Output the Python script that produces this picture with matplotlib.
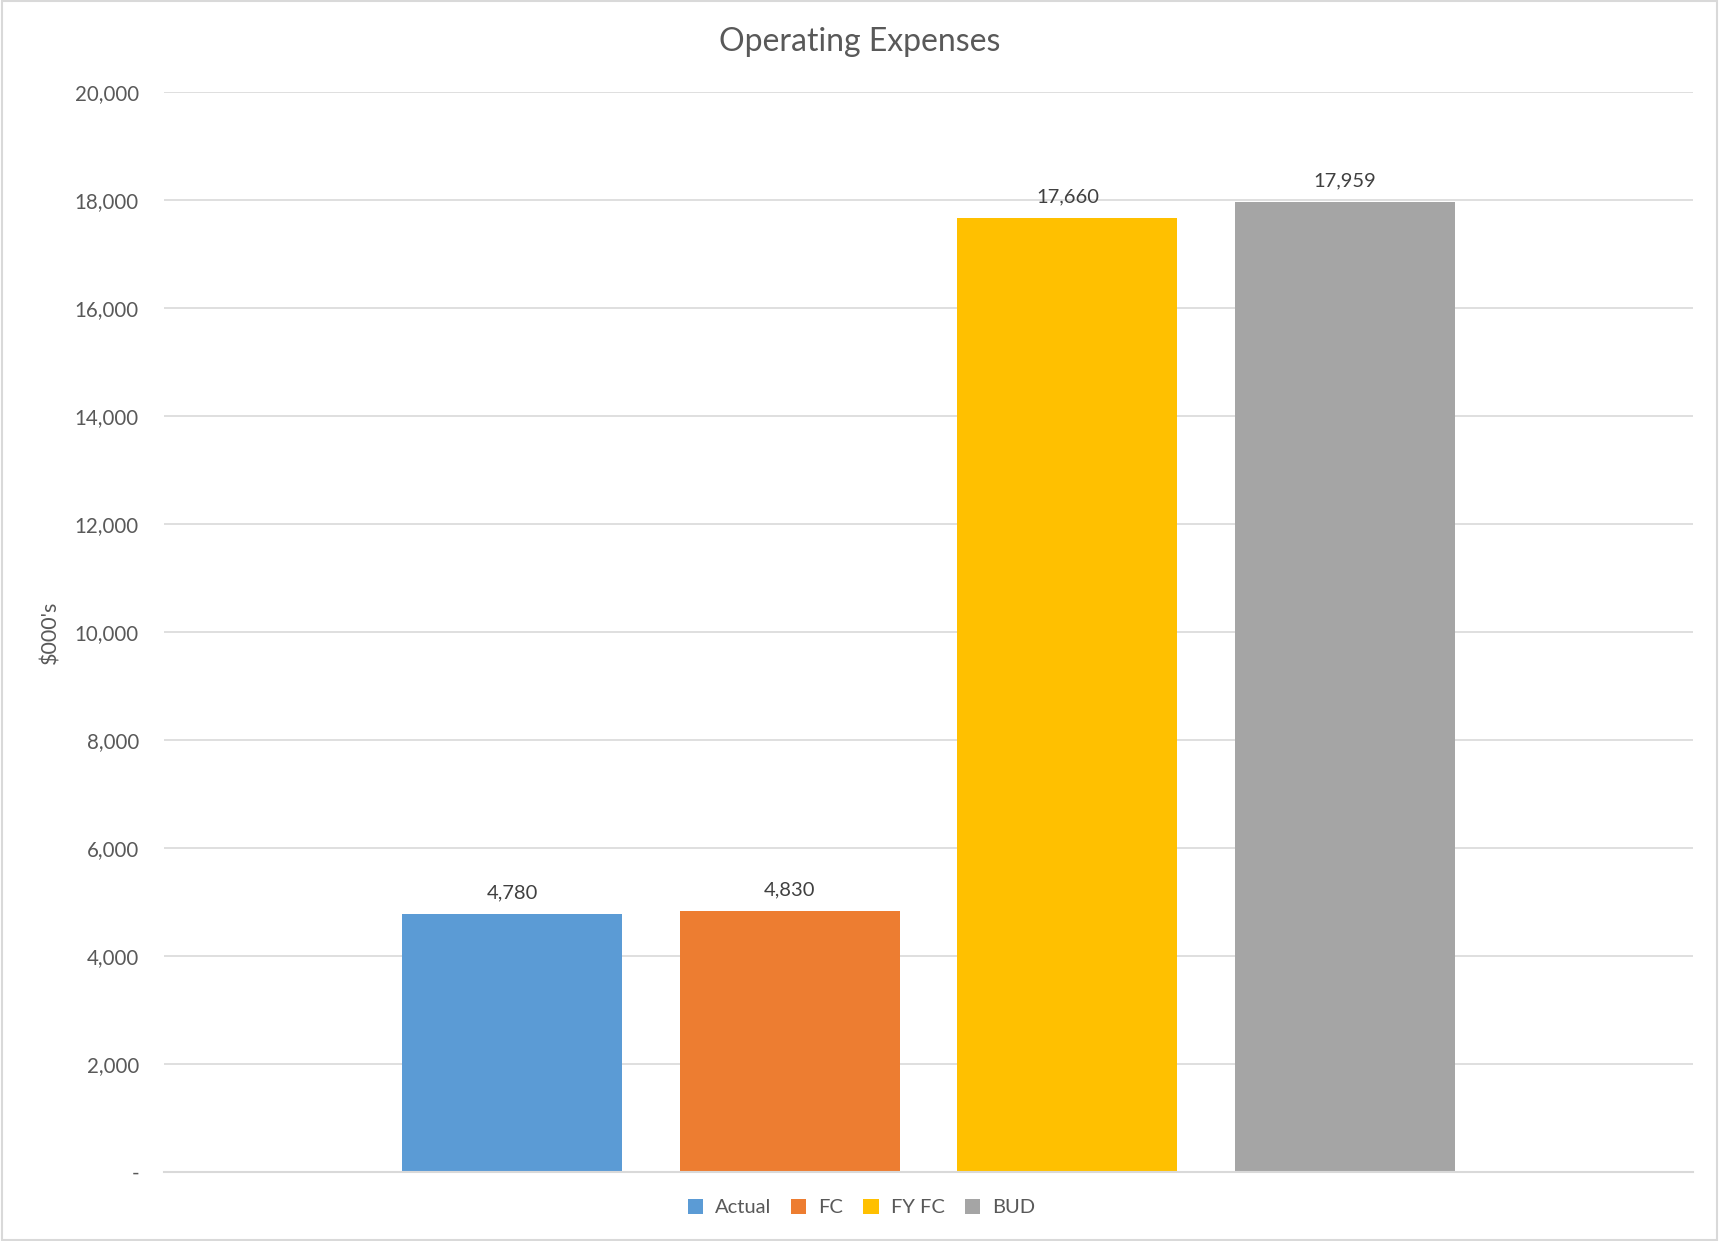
import matplotlib
matplotlib.use("Agg")
import matplotlib.pyplot as plt
from matplotlib.patches import Rectangle
from matplotlib.ticker import FuncFormatter

plt.rcParams['font.family'] = ['Lato', 'DejaVu Sans']

title = "Operating Expenses"
series = ["Actual", "FC", "FY FC", "BUD"]
values = [4780, 4830, 17660, 17959]
colors = ["#5B9BD5", "#ED7D31", "#FFC000", "#A5A5A5"]
yticks = [0, 2000, 4000, 6000, 8000, 10000, 12000, 14000, 16000, 18000, 20000]
ylabel = "$000's"

text_color = "#595959"
grid_color = "#D9D9D9"

fig = plt.figure(figsize=(17.19, 12.41), dpi=100)
ax = fig.add_axes([0.0954, 0.0556, 0.8896, 0.8703])

slot = 0.1815
width = 0.1439
n = len(series)
for i, (name, v, c) in enumerate(zip(series, values, colors)):
    x = (i - (n - 1) / 2) * slot
    ax.bar(x, v, width=width, color=c, label=name, zorder=3)
    ax.annotate(f"{v:,}", (x, v), xytext=(0, 9), textcoords="offset points",
                ha="center", va="bottom", fontsize=14.5, color="#404040")

ax.set_xlim(-0.5, 0.5)
ax.set_ylim(0, 20000)
ax.set_yticks(yticks)
ax.yaxis.set_major_formatter(FuncFormatter(lambda v, p: "-" if v == 0 else f"{int(v):,}"))
ax.set_xticks([])
ax.tick_params(axis="y", length=0, pad=18, labelsize=14.8, labelcolor=text_color)
ax.grid(axis="y", color=grid_color, linewidth=1.2, zorder=0)
for s in ["top", "right", "left"]:
    ax.spines[s].set_visible(False)
ax.spines["bottom"].set_color(grid_color)
ax.spines["bottom"].set_linewidth(1.5)
ax.spines["bottom"].set_zorder(4)

ax.set_ylabel(ylabel, fontsize=15.5, color=text_color)
ax.yaxis.set_label_coords(-0.068, 0.5)

fig.text(0.5, 0.966, title, ha="center", va="center", fontsize=23, color=text_color)

leg = fig.legend(loc="center", bbox_to_anchor=(0.501, 0.027), ncol=4, frameon=False,
                 fontsize=14.5, handlelength=0.75, handleheight=0.75, handletextpad=0.6,
                 columnspacing=1.0)
for t in leg.get_texts():
    t.set_color(text_color)

fig.patches.append(Rectangle((0.001, 0.001), 0.998, 0.998, transform=fig.transFigure,
                             fill=False, edgecolor=grid_color, linewidth=1.5))

fig.savefig("out.png", dpi=100, facecolor="white")
